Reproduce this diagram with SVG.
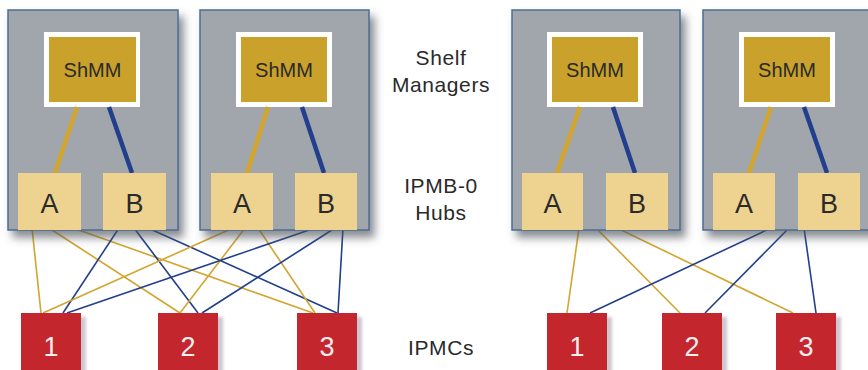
<svg xmlns="http://www.w3.org/2000/svg" width="868" height="370" viewBox="0 0 868 370">
<defs>
<filter id="sh" x="-10%" y="-10%" width="130%" height="130%">
<feDropShadow dx="5" dy="7" stdDeviation="4" flood-color="#4a4f58" flood-opacity="0.65"/>
</filter>
<filter id="shr" x="-10%" y="-10%" width="130%" height="130%">
<feDropShadow dx="5" dy="4" stdDeviation="1.5" flood-color="#b0a0b0" flood-opacity="0.6"/>
</filter>
</defs>
<style>
.shelf{fill:#a1a6ad;stroke:#4a6d92;stroke-width:1.5}
.frame{fill:#fff}
.shmm{fill:#c9a12b}
.hub{fill:#edd290}
.ipmc{fill:#c4282f}
.g{stroke:#d2a52e;fill:none}
.b{stroke:#213f8c;fill:none}
.thin{stroke-width:1.6}
.thick{stroke-width:4.5}
.lbl{font-family:"Liberation Sans",Arial,sans-serif;fill:#2a2a2a;text-anchor:middle}
.side{font-family:"Liberation Sans",Arial,sans-serif;fill:#2a2a2a;text-anchor:middle;font-size:21px;letter-spacing:0.6px}
.num{font-family:"Liberation Sans",Arial,sans-serif;fill:#f4eef0;text-anchor:middle;font-size:27px}
</style>

<g id="connectors">
<!-- left: shelf 1 -->
<line class="g thin" x1="32" y1="228" x2="41" y2="313"/>
<line class="g thin" x1="49" y1="228" x2="180" y2="313"/>
<line class="g thin" x1="73" y1="228" x2="313" y2="313"/>
<line class="b thin" x1="119" y1="228" x2="63" y2="313"/>
<line class="b thin" x1="134" y1="228" x2="198" y2="313"/>
<line class="b thin" x1="148" y1="228" x2="337" y2="313"/>
<!-- left: shelf 2 -->
<line class="g thin" x1="233" y1="228" x2="43" y2="313"/>
<line class="g thin" x1="245" y1="228" x2="180" y2="313"/>
<line class="g thin" x1="258" y1="228" x2="315" y2="313"/>
<line class="b thin" x1="315" y1="228" x2="67" y2="313"/>
<line class="b thin" x1="335" y1="228" x2="202" y2="313"/>
<line class="b thin" x1="343" y1="228" x2="338" y2="313"/>
<!-- right: shelf 3 gold -->
<line class="g thin" x1="579" y1="228" x2="567" y2="313"/>
<line class="g thin" x1="596" y1="228" x2="680" y2="313"/>
<line class="g thin" x1="617" y1="228" x2="793" y2="313"/>
<!-- right: shelf 4 blue -->
<line class="b thin" x1="771" y1="228" x2="590" y2="313"/>
<line class="b thin" x1="789" y1="228" x2="705" y2="313"/>
<line class="b thin" x1="804" y1="228" x2="816" y2="313"/>
</g>

<g id="shelf1">
<rect class="shelf" x="8" y="10" width="170" height="220" filter="url(#sh)"/>
<rect class="frame" x="44" y="32" width="96" height="75"/>
<rect class="shmm" x="49" y="37" width="87" height="65"/>
<text class="lbl" x="92.5" y="77" font-size="20">ShMM</text>
<line class="g thick" x1="77" y1="107" x2="55" y2="173"/>
<line class="b thick" x1="109" y1="107" x2="132" y2="173"/>
<rect class="hub" x="18" y="173" width="63" height="57"/>
<rect class="hub" x="103" y="173" width="63" height="57"/>
<text class="lbl" x="49.5" y="213" font-size="27">A</text>
<text class="lbl" x="134.5" y="213" font-size="27">B</text>
</g>

<g id="shelf2">
<rect class="shelf" x="200" y="10" width="169" height="220" filter="url(#sh)"/>
<rect class="frame" x="236" y="32" width="96" height="75"/>
<rect class="shmm" x="241" y="37" width="86" height="65"/>
<text class="lbl" x="284" y="77" font-size="20">ShMM</text>
<line class="g thick" x1="268" y1="107" x2="247" y2="173"/>
<line class="b thick" x1="302" y1="107" x2="324" y2="173"/>
<rect class="hub" x="211" y="173" width="62" height="57"/>
<rect class="hub" x="295" y="173" width="62" height="57"/>
<text class="lbl" x="242" y="213" font-size="27">A</text>
<text class="lbl" x="326" y="213" font-size="27">B</text>
</g>

<g id="shelf3">
<rect class="shelf" x="512" y="10" width="168" height="220" filter="url(#sh)"/>
<rect class="frame" x="547" y="32" width="96" height="75"/>
<rect class="shmm" x="552" y="37" width="86" height="65"/>
<text class="lbl" x="595" y="77" font-size="20">ShMM</text>
<line class="g thick" x1="580" y1="107" x2="557" y2="173"/>
<line class="b thick" x1="613" y1="107" x2="635" y2="173"/>
<rect class="hub" x="522" y="173" width="61" height="57"/>
<rect class="hub" x="606" y="173" width="62" height="57"/>
<text class="lbl" x="552.5" y="213" font-size="27">A</text>
<text class="lbl" x="637" y="213" font-size="27">B</text>
</g>

<g id="shelf4">
<rect class="shelf" x="703" y="10" width="175" height="220" filter="url(#sh)"/>
<rect class="frame" x="739" y="32" width="96" height="75"/>
<rect class="shmm" x="744" y="37" width="86" height="65"/>
<text class="lbl" x="787" y="77" font-size="20">ShMM</text>
<line class="g thick" x1="771" y1="107" x2="749" y2="173"/>
<line class="b thick" x1="804" y1="107" x2="827" y2="173"/>
<rect class="hub" x="713" y="173" width="62" height="57"/>
<rect class="hub" x="798" y="173" width="62" height="57"/>
<text class="lbl" x="744" y="213" font-size="27">A</text>
<text class="lbl" x="829" y="213" font-size="27">B</text>
</g>

<g id="ipmc-l1"><rect class="ipmc" x="21" y="313" width="60" height="70" filter="url(#shr)"/><text class="num" x="51" y="356">1</text></g>
<g id="ipmc-l2"><rect class="ipmc" x="158" y="313" width="60" height="70" filter="url(#shr)"/><text class="num" x="188" y="356">2</text></g>
<g id="ipmc-l3"><rect class="ipmc" x="297" y="313" width="60" height="70" filter="url(#shr)"/><text class="num" x="327" y="356">3</text></g>
<g id="ipmc-r1"><rect class="ipmc" x="547" y="313" width="60" height="70" filter="url(#shr)"/><text class="num" x="577" y="356">1</text></g>
<g id="ipmc-r2"><rect class="ipmc" x="662" y="313" width="60" height="70" filter="url(#shr)"/><text class="num" x="692" y="356">2</text></g>
<g id="ipmc-r3"><rect class="ipmc" x="776" y="313" width="60" height="70" filter="url(#shr)"/><text class="num" x="806" y="356">3</text></g>

<g id="labels">
<text class="side" x="441" y="65">Shelf</text>
<text class="side" x="441" y="92">Managers</text>
<text class="side" x="441" y="193">IPMB-0</text>
<text class="side" x="441" y="220">Hubs</text>
<text class="side" x="441" y="355">IPMCs</text>
</g>
</svg>
